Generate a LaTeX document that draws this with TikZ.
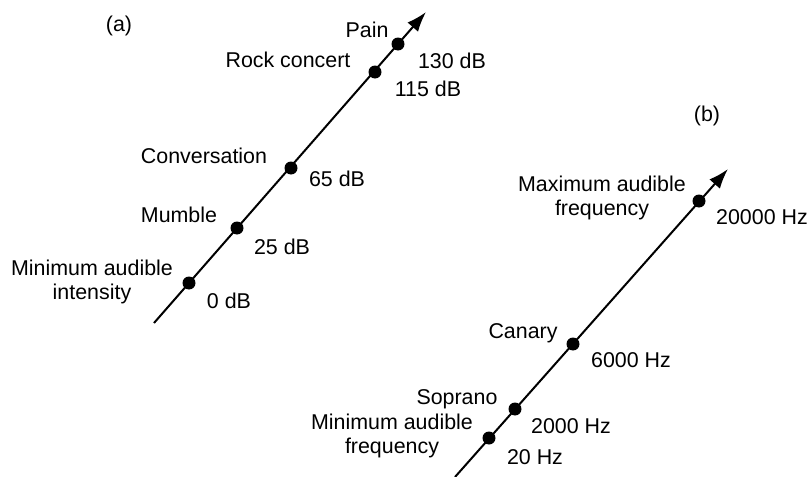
\documentclass[tikz,border=0pt]{standalone}
\usepackage{fontspec}
\setmainfont{Liberation Sans}
\usetikzlibrary{arrows.meta}
\tikzset{
  >={Latex[length=10pt,width=7pt]},
  axis/.style = {->, draw=black, line width=1pt},
  dot/.style = {circle, fill=black, inner sep=0, minimum size=6.5pt},
  lbl/.style = {inner sep=0, anchor=base, font=\fontsize{10.7}{12}\selectfont},
  lbl2/.style = {lbl, anchor=center, align=center},
}

\begin{document}
\begin{tikzpicture}[x=0.5pt,y=-0.5pt]
\useasboundingbox (0,0) rectangle (811,477);
% (a) intensity
\coordinate (a0) at (154,323);
\coordinate (a1) at (426,12);
\draw[axis] (a0) -- (a1);
\foreach \n/\x/\y in {zero/189/283, mumble/237/228, conv/291/168, rock/375/72, pain/398/44}{
  \node[dot] (\n) at (\x,\y) {};
}
\node[lbl] (la) at (119,31) {(a)};
\node[lbl] (lpain) at (367,37) {Pain};
\node[lbl] (dpain) at (452,68) {130 dB};
\node[lbl] (lrock) at (288,67) {Rock concert};
\node[lbl] (drock) at (428,96) {115 dB};
\node[lbl] (lconv) at (204,163) {Conversation};
\node[lbl] (dconv) at (337,186) {65 dB};
\node[lbl] (lmumble) at (179,222) {Mumble};
\node[lbl] (dmumble) at (282,254) {25 dB};
\node[lbl2] (lzero) at (92,282) {Minimum audible\\intensity};
\node[lbl] (dzero) at (229,308) {0 dB};
% (b) frequency
\coordinate (b0) at (455,477);
\coordinate (b1) at (728,169);
\draw[axis] (b0) -- (b1);
\foreach \n/\x/\y in {fmin/489/438, soprano/515/409, canary/573/344, fmax/699/201}{
  \node[dot] (\n) at (\x,\y) {};
}
\node[lbl] (lb) at (707,121) {(b)};
\node[lbl2] (lfmax) at (602,198) {Maximum audible\\frequency};
\node[lbl] (dfmax) at (762,224) {20000 Hz};
\node[lbl] (lcanary) at (523,338) {Canary};
\node[lbl] (dcanary) at (631,367) {6000 Hz};
\node[lbl] (lsoprano) at (457,404) {Soprano};
\node[lbl] (dsoprano) at (571,433) {2000 Hz};
\node[lbl2] (lfmin) at (392,436) {Minimum audible\\frequency};
\node[lbl] (dfmin) at (535,464) {20 Hz};
\end{tikzpicture}
\end{document}
